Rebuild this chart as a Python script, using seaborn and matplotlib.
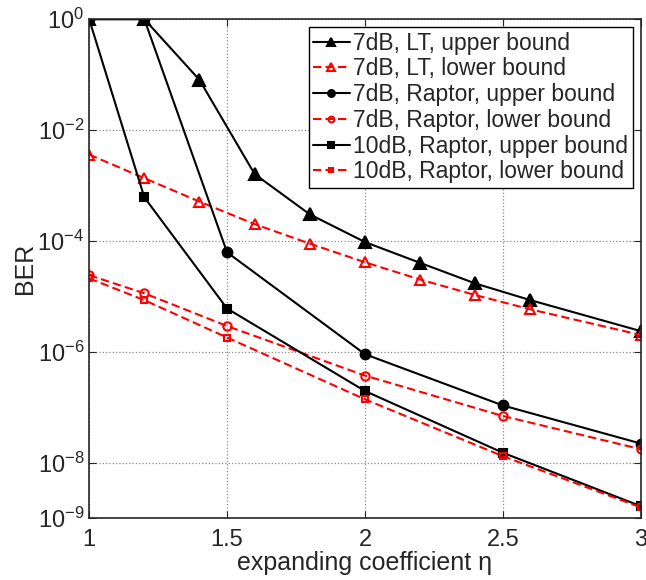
import numpy as np
import pandas as pd
import seaborn as sns
import matplotlib
matplotlib.use("Agg")
import matplotlib.pyplot as plt
from matplotlib.ticker import FixedLocator, LogFormatterMathtext, NullLocator

# data
eta_lt = [1.0, 1.2, 1.4, 1.6, 1.8, 2.0, 2.2, 2.4, 2.6, 3.0]
lt7_upper = [1.0, 1.0, 8.0e-2, 1.6e-3, 3.0e-4, 9.5e-5, 4.0e-5, 1.7e-5, 8.5e-6, 2.35e-6]
lt7_lower = [3.6e-3, 1.35e-3, 5.1e-4, 2.0e-4, 8.9e-5, 4.1e-5, 2.0e-5, 1.05e-5, 5.8e-6, 2.0e-6]

eta_raptor = [1.0, 1.2, 1.5, 2.0, 2.5, 3.0]
raptor7_upper = [1.0, 1.0, 6.2e-5, 9.0e-7, 1.07e-7, 2.2e-8]
raptor7_lower = [2.4e-5, 1.13e-5, 2.9e-6, 3.7e-7, 6.9e-8, 1.74e-8]
raptor10_upper = [1.0, 6.1e-4, 6.0e-6, 1.95e-7, 1.5e-8, 1.63e-9]
raptor10_lower = [2.1e-5, 8.5e-6, 1.8e-6, 1.38e-7, 1.3e-8, 1.55e-9]

labels = ["7dB, LT, upper bound", "7dB, LT, lower bound",
          "7dB, Raptor, upper bound", "7dB, Raptor, lower bound",
          "10dB, Raptor, upper bound", "10dB, Raptor, lower bound"]

dashed = (0, (4, 2))
series = [
    (eta_lt, lt7_upper, "k", "-", "^", "k", 8),
    (eta_lt, lt7_lower, "red", dashed, "^", "none", 7.5),
    (eta_raptor, raptor7_upper, "k", "-", "o", "k", 7),
    (eta_raptor, raptor7_lower, "red", dashed, "o", "none", 6),
    (eta_raptor, raptor10_upper, "k", "-", "s", "k", 5.5),
    (eta_raptor, raptor10_lower, "red", dashed, "s", "none", 5),
]

sns.set_style("ticks")
plt.rcParams["font.family"] = ["Liberation Sans", "DejaVu Sans"]
plt.rcParams["mathtext.default"] = "regular"

fig = plt.figure(figsize=(6.46, 5.8), dpi=100)
ax = fig.add_axes([0.138, 0.107, 0.854, 0.860])

for (x, y, col, ls, mk, mfc, ms), lab in zip(series, labels):
    df = pd.DataFrame({"eta": x, "ber": y})
    sns.lineplot(data=df, x="eta", y="ber", ax=ax, color=col, linestyle=ls,
                 marker=mk, markerfacecolor=mfc, markeredgecolor=col,
                 markersize=ms, markeredgewidth=1.5, linewidth=1.5,
                 dashes=False, label=lab)

ax.set_yscale("log")
ax.set_xlim(1, 3)
ax.set_ylim(1e-9, 1)
ax.set_xticks([1, 1.5, 2, 2.5, 3])
ax.set_xticklabels(["1", "1.5", "2", "2.5", "3"])
ax.yaxis.set_major_locator(FixedLocator([1, 1e-2, 1e-4, 1e-6, 1e-8, 1e-9]))
ax.yaxis.set_major_formatter(LogFormatterMathtext())
ax.yaxis.set_minor_locator(NullLocator())
ax.tick_params(direction="in", top=True, right=True, labelsize=17, length=5)
ax.tick_params(axis="x", pad=8)
ax.grid(True, linestyle=":", color="#888888", linewidth=0.9)
for s in ax.spines.values():
    s.set_linewidth(1.2)

ax.set_xlabel("expanding coefficient η", fontsize=18, labelpad=0)
ax.set_ylabel("BER", fontsize=18, labelpad=0)

leg = ax.legend(loc="upper right", fontsize=16.5, frameon=True, fancybox=False,
                edgecolor="k", framealpha=1, handlelength=1.6, handletextpad=0.15,
                borderpad=0.2, labelspacing=0.12, borderaxespad=0.35,
                markerscale=0.7)
leg.get_frame().set_linewidth(1.0)

fig.savefig("out.png", dpi=100)
